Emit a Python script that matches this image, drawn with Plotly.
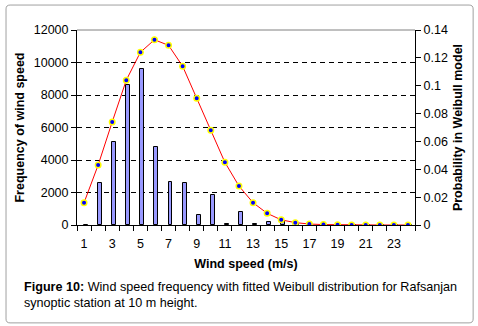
import plotly.graph_objects as go

speeds = list(range(1, 25))
frequency = [0, 2560, 5090, 8600, 9580, 4780, 2630, 2560, 600, 1840, 70, 780,
             60, 160, 240, 60, 20, 0, 0, 0, 0, 0, 0, 0]
weibull_prob = [0.016, 0.043, 0.074, 0.104, 0.124, 0.133, 0.129, 0.114, 0.091,
                0.068, 0.045, 0.028, 0.016, 0.0084, 0.0037, 0.0017, 0.0007,
                0.0003, 0.0001, 0, 0, 0, 0, 0]
x_tick_labels = [1, 3, 5, 7, 9, 11, 13, 15, 17, 19, 21, 23]
left_ticks = [0, 2000, 4000, 6000, 8000, 10000, 12000]
right_ticks = [0, 0.02, 0.04, 0.06, 0.08, 0.1, 0.12, 0.14]

FONT = "Liberation Sans, Arial, sans-serif"

fig = go.Figure()
fig.add_trace(go.Bar(
    x=speeds, y=frequency, width=0.28, offset=0.0,
    marker=dict(color="#9999FF", line=dict(color="black", width=1)),
    yaxis="y", showlegend=False,
))
fig.add_trace(go.Scatter(
    x=speeds, y=weibull_prob, mode="lines+markers", yaxis="y2",
    line=dict(color="#FF0000", width=1),
    marker=dict(color="#0000FF", size=5.5, line=dict(color="#FFFF00", width=1.5)),
    showlegend=False,
))

fig.update_layout(
    width=478, height=326,
    margin=dict(l=77, r=63, t=30, b=101),
    paper_bgcolor="white", plot_bgcolor="white",
    font=dict(family=FONT, size=12, color="black"),
    bargap=0,
    xaxis=dict(
        range=[0.5, 24.5], tickmode="array", tickvals=x_tick_labels,
        ticktext=[str(v) for v in x_tick_labels], ticks="", showgrid=False,
        showline=True, linecolor="black", linewidth=1, zeroline=False,
        minor=dict(tick0=0.5, dtick=1, ticks="outside", ticklen=5,
                   tickcolor="black", showgrid=False),
        ticklabelstandoff=7,
        title=dict(text="<b>Wind speed (m/s)</b>", font=dict(size=12.5), standoff=9),
        tickfont=dict(size=12.5), fixedrange=True,
    ),
    yaxis=dict(
        range=[0, 12000], tickmode="array", tickvals=left_ticks, tickformat="d",
        ticks="outside", ticklen=5, tickcolor="black",
        showline=True, linecolor="black", linewidth=1, zeroline=False,
        showgrid=True, gridcolor="black", gridwidth=1, griddash="5px,4px",
        title=dict(text="<b>Frequency of wind speed</b>", font=dict(size=12.5), standoff=6),
        tickfont=dict(size=12.5),
    ),
    yaxis2=dict(
        range=[0, 0.14], tickmode="array", tickvals=right_ticks,
        overlaying="y", side="right", ticks="outside", ticklen=5, tickcolor="black",
        showline=True, linecolor="black", linewidth=1, zeroline=False, showgrid=False,
        title=dict(text="<b>Probability in Weibull model</b>", font=dict(size=12.5), standoff=6),
        tickfont=dict(size=12.5),
    ),
    shapes=[
        dict(type="line", xref="paper", yref="paper", x0=0, x1=1, y0=1, y1=1,
             line=dict(color="#808080", width=1)),
        dict(type="path", xref="paper", yref="paper",
             path="M -0.198,1.128 L 1.160,1.128 Q 1.172,1.128 1.172,1.108 "
                  "L 1.172,-0.482 Q 1.172,-0.502 1.160,-0.502 L -0.198,-0.502 "
                  "Q -0.210,-0.502 -0.210,-0.482 L -0.210,1.108 Q -0.210,1.128 -0.198,1.128 Z",
             line=dict(color="#A0A0A0", width=1)),
    ],
    annotations=[
        dict(xref="paper", yref="paper", x=-0.163, y=-0.27, xanchor="left", yanchor="top",
             align="left", showarrow=False,
             text="<b>Figure 10:</b> Wind speed frequency with fitted Weibull distribution for Rafsanjan<br>synoptic station at 10 m height.",
             font=dict(size=12.6, family=FONT, color="black")),
    ],
)

fig.write_html("out.html")
